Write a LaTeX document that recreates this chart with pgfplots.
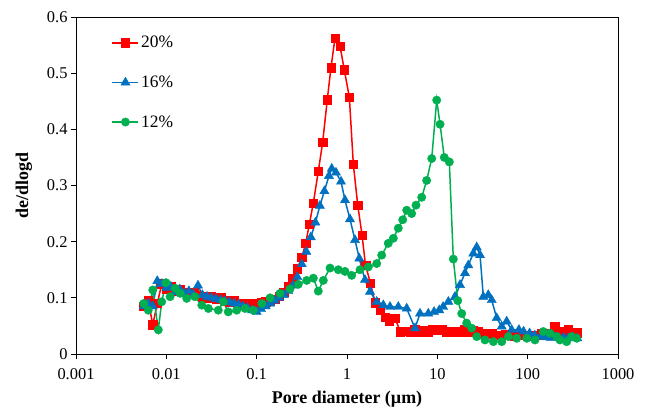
\documentclass[border=0pt]{standalone}
\usepackage{fontspec}
\setmainfont{Liberation Serif}
\usepackage{pgfplots}
\usepackage{pgfplotstable}
\pgfplotsset{compat=1.18}
\definecolor{cred}{RGB}{255,0,0}
\definecolor{cblue}{RGB}{0,112,192}
\definecolor{cgreen}{RGB}{0,176,80}

\pgfplotstableread{
x y
0.00562 0.085
0.00631 0.095
0.00708 0.052
0.00794 0.090
0.00891 0.125
0.0100 0.115
0.0112 0.120
0.0126 0.112
0.0141 0.115
0.0158 0.110
0.0178 0.108
0.0200 0.110
0.0224 0.105
0.0251 0.102
0.0282 0.100
0.0316 0.103
0.0355 0.098
0.0398 0.100
0.0447 0.095
0.0501 0.093
0.0562 0.095
0.0631 0.090
0.0708 0.088
0.0794 0.090
0.0891 0.085
0.100 0.090
0.112 0.092
0.126 0.093
0.141 0.095
0.158 0.098
0.178 0.103
0.200 0.110
0.224 0.120
0.251 0.135
0.282 0.152
0.316 0.172
0.349 0.197
0.383 0.231
0.424 0.269
0.481 0.325
0.538 0.377
0.605 0.453
0.665 0.510
0.736 0.562
0.838 0.548
0.933 0.506
1.062 0.457
1.175 0.338
1.315 0.265
1.466 0.212
1.603 0.158
1.820 0.126
2.042 0.091
2.323 0.078
2.630 0.066
2.950 0.058
3.390 0.064
3.890 0.040
4.467 0.041
5.012 0.040
5.623 0.043
6.310 0.040
7.079 0.042
7.943 0.040
8.913 0.044
10.00 0.042
11.22 0.043
12.59 0.040
14.13 0.040
15.85 0.041
17.78 0.040
19.95 0.043
22.39 0.040
25.12 0.042
28.18 0.040
31.62 0.037
35.48 0.035
39.81 0.036
44.67 0.034
50.12 0.033
56.23 0.035
63.10 0.033
70.79 0.032
79.43 0.034
89.13 0.033
100.0 0.032
112.2 0.033
125.9 0.034
141.3 0.036
158.5 0.035
177.8 0.037
199.5 0.050
223.9 0.040
251.2 0.038
281.8 0.043
316.2 0.038
354.8 0.038
}\redtab

\pgfplotstableread{
x y
0.00562 0.085
0.00631 0.090
0.00708 0.085
0.00794 0.130
0.00891 0.125
0.0100 0.118
0.0112 0.120
0.0126 0.110
0.0141 0.115
0.0158 0.108
0.0178 0.112
0.0200 0.106
0.0224 0.122
0.0251 0.105
0.0282 0.102
0.0316 0.100
0.0355 0.098
0.0398 0.096
0.0447 0.094
0.0501 0.092
0.0562 0.090
0.0631 0.088
0.0708 0.085
0.0794 0.082
0.0891 0.078
0.100 0.075
0.112 0.080
0.126 0.085
0.141 0.090
0.158 0.095
0.178 0.100
0.200 0.105
0.224 0.112
0.251 0.122
0.282 0.137
0.316 0.160
0.355 0.182
0.398 0.208
0.447 0.234
0.501 0.264
0.562 0.290
0.631 0.317
0.678 0.330
0.755 0.323
0.859 0.307
0.950 0.274
1.079 0.240
1.227 0.203
1.368 0.170
1.581 0.132
1.799 0.111
2.133 0.093
2.523 0.087
2.992 0.084
3.698 0.084
4.581 0.081
5.662 0.046
6.427 0.072
7.943 0.072
9.200 0.075
10.50 0.078
11.60 0.084
13.24 0.093
15.70 0.102
17.82 0.123
20.23 0.144
22.03 0.158
25.00 0.179
27.29 0.190
29.72 0.176
32.28 0.102
36.64 0.105
40.00 0.096
45.40 0.064
51.60 0.049
58.60 0.058
66.50 0.043
80.00 0.043
90.00 0.040
105.0 0.037
120.0 0.033
140.0 0.031
160.0 0.030
180.0 0.029
200.0 0.030
225.0 0.028
250.0 0.029
280.0 0.028
315.0 0.030
355.0 0.028
}\bluetab

\pgfplotstableread{
x y
0.00562 0.090
0.00631 0.078
0.00708 0.114
0.00815 0.043
0.00889 0.093
0.00991 0.127
0.0110 0.102
0.0125 0.117
0.0142 0.108
0.0168 0.099
0.0207 0.102
0.0247 0.087
0.0292 0.081
0.0376 0.078
0.0428 0.093
0.0485 0.075
0.0601 0.078
0.0743 0.081
0.0918 0.078
0.114 0.090
0.141 0.100
0.181 0.108
0.234 0.116
0.289 0.124
0.358 0.131
0.424 0.135
0.481 0.112
0.547 0.131
0.649 0.153
0.802 0.150
0.950 0.147
1.127 0.140
1.393 0.150
1.722 0.155
2.133 0.161
2.421 0.176
2.864 0.197
3.258 0.206
3.698 0.224
4.140 0.239
4.581 0.256
5.200 0.250
5.808 0.265
6.714 0.279
7.621 0.309
8.670 0.348
9.840 0.452
10.72 0.409
11.94 0.350
13.58 0.342
15.03 0.169
16.83 0.095
18.62 0.072
21.13 0.055
24.04 0.046
27.29 0.031
33.70 0.025
41.70 0.022
51.60 0.022
61.10 0.031
75.70 0.028
97.70 0.028
120.5 0.025
148.9 0.040
176.6 0.037
209.9 0.031
228.0 0.025
270.4 0.022
307.6 0.031
349.1 0.028
}\greentab

\begin{document}
\begin{tikzpicture}
\useasboundingbox (0,0) rectangle (646bp,410bp);
\begin{axis}[
  at={(76bp,56bp)}, anchor=south west,
  scale only axis, width=542bp, height=337bp,
  xmode=log, xmin=0.001, xmax=1000, ymin=0, ymax=0.6,
  xtick={0.001,0.01,0.1,1,10,100,1000},
  xticklabels={0.001,0.01,0.1,1,10,100,1000},
  ytick={0,0.1,0.2,0.3,0.4,0.5,0.6},
  yticklabels={0,0.1,0.2,0.3,0.4,0.5,0.6},
  xminorticks=false,
  tick align=outside, xtick pos=left, ytick pos=left,
  major tick length=5bp,
  tick style={black, line width=0.8bp},
  axis line style={black, line width=0.8bp},
  ticklabel style={font=\fontsize{16.5}{18}\selectfont},
  xticklabel style={yshift=-6bp},
  xlabel={\textbf{Pore diameter (µm)}},
  ylabel={\textbf{de/dlogd}},
  xlabel shift=5bp,
  ylabel shift=8bp,
  label style={font=\fontsize{18}{20}\selectfont},
  legend style={at={(0.06,0.955)}, anchor=north west, draw=none, fill=none,
    font=\fontsize{17.5}{19}\selectfont, row sep=22.5bp},
  legend cell align=left,
  legend image code/.code={\draw[mark repeat=2,mark phase=2,#1] plot coordinates {(0bp,0bp)(13bp,0bp)(26bp,0bp)};},
]
\addplot[cred, line width=1.5bp, mark=square*, mark size=4.2bp, mark options={solid, line width=0.4bp, fill=cred}] table[x=x,y=y] {\redtab};
\addlegendentry{20\%}
\addplot[cblue, line width=1.5bp, mark=triangle*, mark size=5.3bp, mark options={solid, line width=0.4bp, fill=cblue}] table[x=x,y=y] {\bluetab};
\addlegendentry{16\%}
\addplot[cgreen, line width=1.5bp, mark=*, mark size=4.2bp, mark options={solid, line width=0.4bp, fill=cgreen}] table[x=x,y=y] {\greentab};
\addlegendentry{12\%}
\end{axis}
\end{tikzpicture}
\end{document}
